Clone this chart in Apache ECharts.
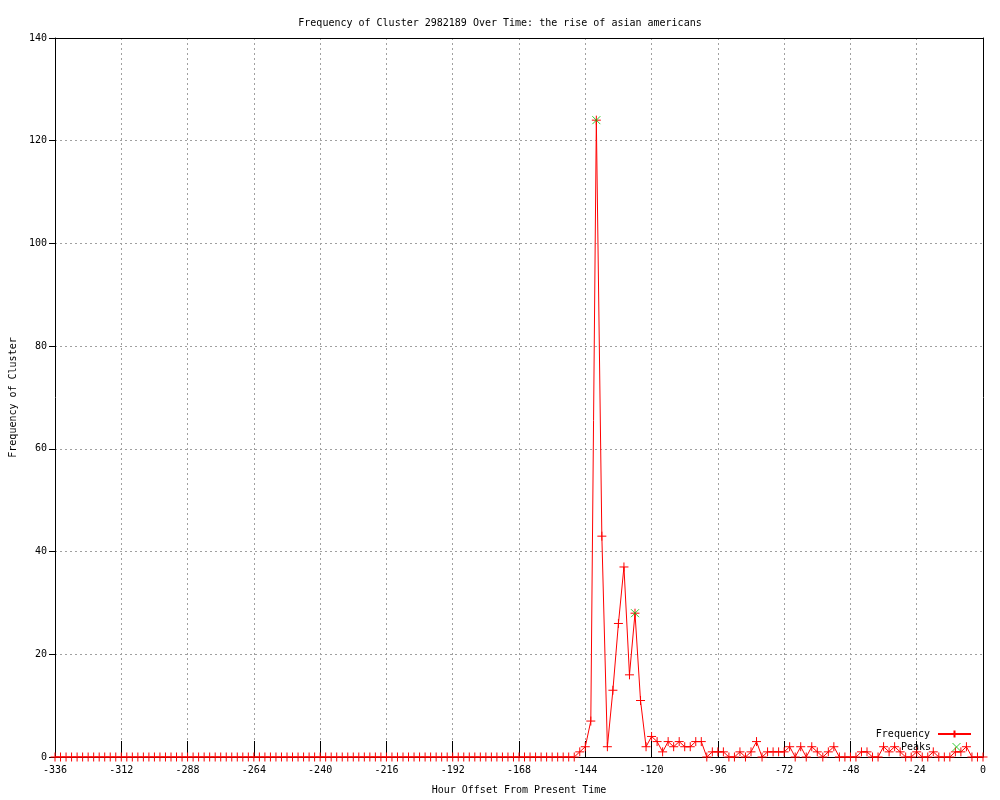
<!DOCTYPE html>
<html>
<head>
<meta charset="utf-8">
<script src="https://cdn.jsdelivr.net/npm/echarts@6/dist/echarts.min.js"></script>
<style>html,body{margin:0;padding:0;background:#fff}#c{width:1000px;height:800px}</style>
</head>
<body>
<div id="c"></div>
<script>
// Hour offsets, every 2 hours from -336 to 0
const hours = [];
for (let h = -336; h <= 0; h += 2) hours.push(h);

// Frequency values (one per hour offset above)
const frequency = [
  0,0,0,0,0,0,0,0,0,0, 0,0,0,0,0,0,0,0,0,0, // -336 .. -298
  0,0,0,0,0,0,0,0,0,0, 0,0,0,0,0,0,0,0,0,0, // -296 .. -258
  0,0,0,0,0,0,0,0,0,0, 0,0,0,0,0,0,0,0,0,0, // -256 .. -218
  0,0,0,0,0,0,0,0,0,0, 0,0,0,0,0,0,0,0,0,0, // -216 .. -178
  0,0,0,0,0,0,0,0,0,0, 0,0,0,0,0,            // -176 .. -148
  1,2,7,124,43,2,13,26,37,16,               // -146 .. -128
  28,11,2,4,3,1,3,2,3,2,                     // -126 .. -108
  2,3,3,0,1,1,1,0,0,1,                       // -106 .. -88
  0,1,3,0,1,1,1,1,2,0,                       // -86 .. -68
  2,0,2,1,0,1,2,0,0,0,                       // -66 .. -48
  0,1,1,0,0,2,1,2,1,0,                       // -46 .. -28
  0,1,0,0,1,0,0,0,1,1,                       // -26 .. -8
  2,0,0,0                                    // -6 .. 0
];

const peakHours = [-140, -126];
const peakValues = [124, 28];

const freqData = hours.map((h, i) => [h, frequency[i]]);
const peakData = peakHours.map((h, i) => [h, peakValues[i]]);

const FONT = 'DejaVu Sans Mono';
const plus = 'path://M0,5L10,5M5,0L5,10';
const cross = 'path://M0,0L10,10M10,0L0,10';
const GREEN = '#00c000';

const chart = echarts.init(document.getElementById('c'));
const gridLine = {show: true, lineStyle: {color: '#a0a0a0', type: [2, 3], width: 1}};
const axisTxt = {color: '#000', fontFamily: FONT, fontSize: 10};
const blackLine = {show: true, onZero: false, lineStyle: {color: '#000', width: 1}};

chart.setOption({
  animation: false,
  backgroundColor: '#fff',
  title: {
    text: 'Frequency of Cluster 2982189 Over Time: the rise of asian americans',
    left: 'center', top: 13,
    textStyle: {fontFamily: FONT, fontSize: 10, fontWeight: 'normal', color: '#000'}
  },
  legend: [
    {
      data: ['Frequency'], orient: 'vertical', right: 23, top: 724, align: 'right',
      itemWidth: 33, itemHeight: 9,
      textStyle: {fontFamily: FONT, fontSize: 10, color: '#000', padding: [0, 3, 0, 0]}
    },
    {
      data: [{name: 'Peaks', icon: cross, itemStyle: {color: GREEN, borderColor: GREEN, borderWidth: 1}}],
      orient: 'vertical', right: 34, top: 737, align: 'right',
      itemWidth: 33, itemHeight: 8,
      textStyle: {fontFamily: FONT, fontSize: 10, color: '#000', padding: [0, 4, 0, 0]}
    }
  ],
  grid: {left: 55, right: 17, top: 38, bottom: 40},
  xAxis: [
    {
      type: 'value', min: -336, max: 0, interval: 24, position: 'bottom',
      name: 'Hour Offset From Present Time', nameLocation: 'middle', nameGap: 28,
      nameTextStyle: axisTxt,
      axisLine: blackLine,
      axisTick: {show: true, inside: true, length: 16, lineStyle: {color: '#000'}},
      axisLabel: Object.assign({margin: 8}, axisTxt),
      splitLine: gridLine
    },
    {
      type: 'value', min: -336, max: 0, interval: 24, position: 'top',
      axisLine: blackLine,
      axisTick: {show: false},
      axisLabel: {show: false}, splitLine: {show: false}
    }
  ],
  yAxis: [
    {
      type: 'value', min: 0, max: 140, interval: 20, position: 'left',
      name: 'Frequency of Cluster', nameLocation: 'middle', nameGap: 36, nameRotate: 90,
      nameTextStyle: axisTxt,
      axisLine: blackLine,
      axisTick: {show: true, inside: false, length: 6, lineStyle: {color: '#000'}},
      axisLabel: Object.assign({margin: 8}, axisTxt),
      splitLine: gridLine
    },
    {
      type: 'value', min: 0, max: 140, interval: 20, position: 'right',
      axisLine: blackLine,
      axisTick: {show: false},
      axisLabel: {show: false}, splitLine: {show: false}
    }
  ],
  series: [
    {
      name: 'Frequency', type: 'line', data: freqData,
      xAxisIndex: 0, yAxisIndex: 0,
      symbol: plus, symbolSize: 9, showSymbol: true,
      lineStyle: {color: '#ff0000', width: 1},
      itemStyle: {color: '#ff0000', borderColor: '#ff0000', borderWidth: 1},
      z: 3
    },
    {
      name: 'Peaks', type: 'scatter', data: peakData,
      xAxisIndex: 0, yAxisIndex: 0,
      symbol: cross, symbolSize: 8,
      itemStyle: {color: GREEN, borderColor: GREEN, borderWidth: 1},
      z: 4
    }
  ]
});
</script>
</body>
</html>
